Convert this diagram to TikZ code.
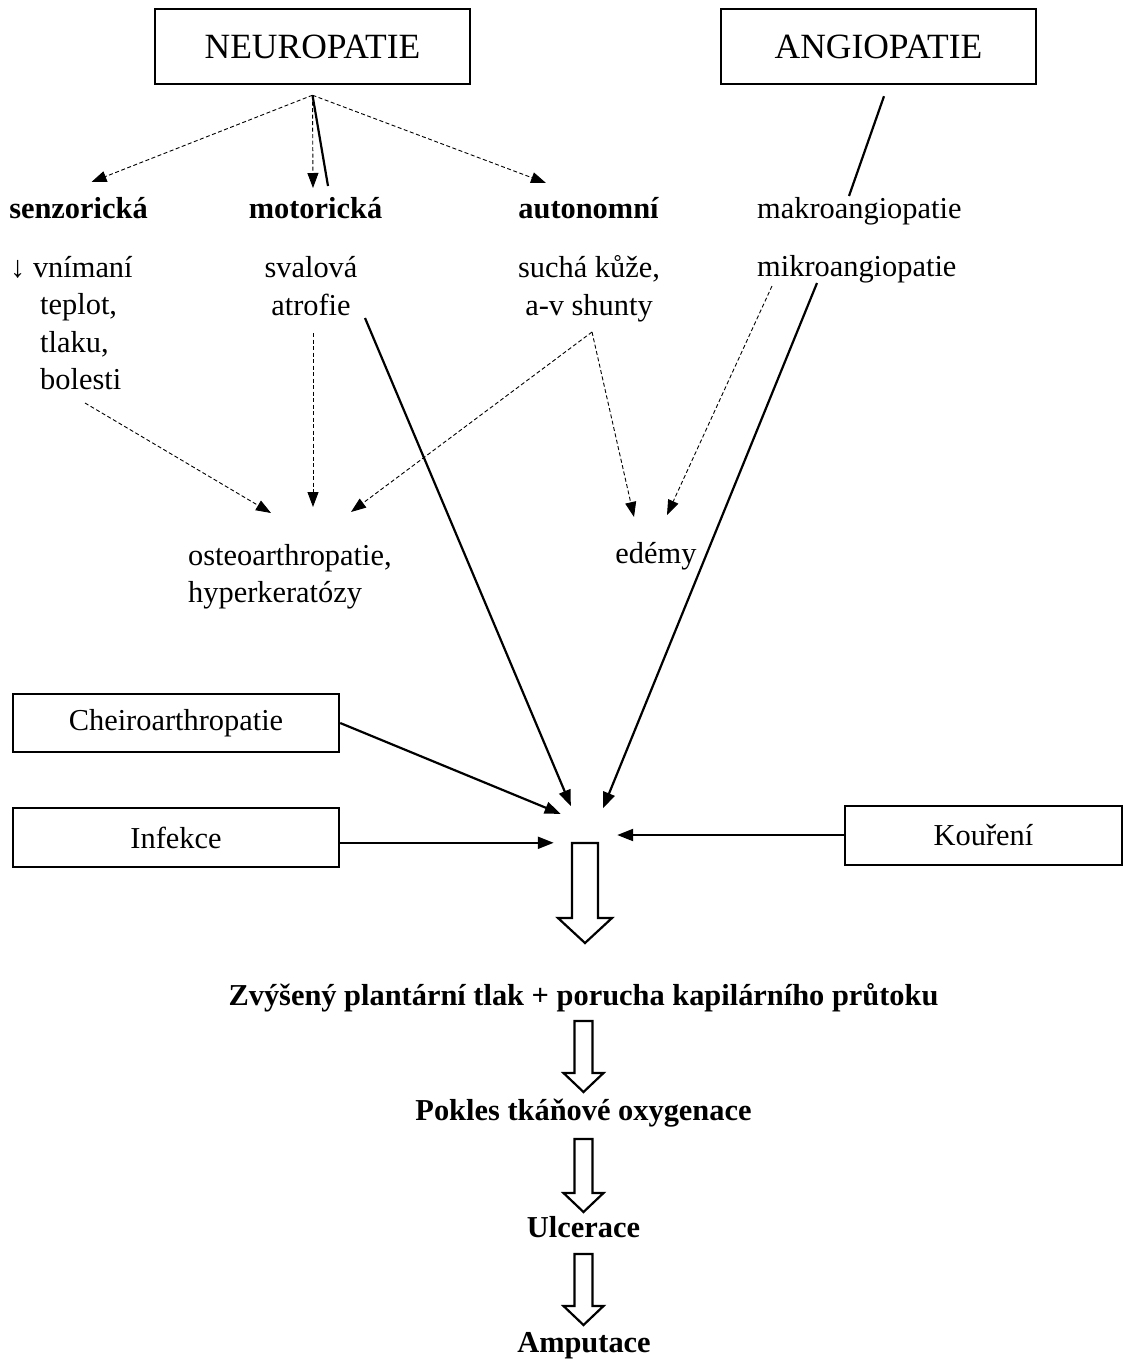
\documentclass[tikz,border=0pt]{standalone}
\usepackage{fontspec}
\setmainfont{Liberation Serif}
\usetikzlibrary{arrows.meta,calc}

% hollow downward arrow: top, tip, half shaft, half head, head length
\newcommand\fatarrow[5]{%
  \draw[fat] let \p1=#1, \p2=#2 in
    (\x1-#3,\y1) -- (\x1-#3,\y2+#5) -- (\x1-#4,\y2+#5) -- (\x1,\y2)
    -- (\x1+#4,\y2+#5) -- (\x1+#3,\y2+#5) -- (\x1+#3,\y1) -- cycle;}

\begin{document}
\begin{tikzpicture}[x=1pt,y=-1pt,
    txt/.style={inner sep=0pt, font=\fontsize{30.4}{37.5}\selectfont},
    bold/.style={inner sep=0pt, font=\fontsize{30.4}{37}\selectfont\bfseries},
    box/.style={draw, line width=2.4pt, inner sep=0pt, font=\fontsize{30.4}{37}\selectfont},
    headbox/.style={box, minimum width=315pt, minimum height=75pt, font=\fontsize{35.5}{42}\selectfont},
    dasharrow/.style={line width=0.9pt, dash pattern=on 4pt off 2.5pt, -{Triangle[length=15pt,width=11pt]}},
    solidarrow/.style={line width=2.2pt, -{Triangle[length=16pt,width=12pt]}},
    fat/.style={line width=2.2pt, line join=miter}]
    \useasboundingbox (0,0) rectangle (1123,1360);
    % Draw the two main boxes
    \node[headbox] (neuro) at (312.5,46.5) {NEUROPATIE};
    \node[headbox] (angio) at (878.5,46.5) {ANGIOPATIE};
    % Draw the kinds of neuropathy and angiopathy
    \node[bold, anchor=base] (senz) at (78.5,218) {senzorická};
    \node[bold, anchor=base] (motor) at (315.5,218) {motorická};
    \node[bold, anchor=base] (auto) at (588.5,218) {autonomní};
    \node[txt, anchor=base west] (makro) at (757,218) {makroangiopatie};
    \node[txt, anchor=base west] (mikro) at (757,276) {mikroangiopatie};
    % Draw their effects
    \node[txt, align=left, anchor=west] (vnim) at (10,323)
        {↓ vnímaní\\\hspace*{30pt}teplot,\\\hspace*{30pt}tlaku,\\\hspace*{30pt}bolesti};
    \node[txt, align=center] (sval) at (311,286) {svalová\\atrofie};
    \node[txt, align=center] (such) at (589,289) {suchá kůže,\\a-v shunty};
    \node[txt, align=left, anchor=west] (osteo) at (188,576.5) {osteoarthropatie,\\hyperkeratózy};
    \node[txt, anchor=base] (edemy) at (656,563) {edémy};
    % Draw the side factors
    \node[box, minimum width=326pt, minimum height=58pt] (cheiro) at (176,723) {\raisebox{-3pt}{Cheiroarthropatie}};
    \node[box, minimum width=326pt, minimum height=59pt] (infekce) at (176,837.5) {Infekce};
    \node[box, minimum width=277pt, minimum height=59pt] (koureni) at (983.5,835.5) {Kouření};
    \node[circle, minimum size=64pt, inner sep=0pt] (hub) at (585,835) {};
    % Draw the chain at the bottom
    \node[bold, anchor=base] (zvys) at (583.5,1005) {Zvýšený plantární tlak + porucha kapilárního průtoku};
    \node[bold, anchor=base] (pokles) at (583.5,1120) {Pokles tkáňové oxygenace};
    \node[bold, anchor=base] (ulcer) at (583.5,1237) {Ulcerace};
    \node[bold, anchor=base] (amput) at (584,1352) {Amputace};
    % Draw the arrows from neuropatie
    \coordinate (nsplit) at ($(neuro.south)+(0,10)$);
    \draw[dasharrow] (nsplit) -- ([shift={(13,-36)}]senz.base);
    \draw[dasharrow] (nsplit) -- ([shift={(-2.5,-30)}]motor.base);
    \draw[line width=2.2pt] (nsplit) -- ([shift={(12.5,-32)}]motor.base);
    \draw[dasharrow] (nsplit) -- ([shift={(-42.5,-35)}]auto.base);
    \draw[line width=2.2pt] ([shift={(5.5,11)}]angio.south) -- ([shift={(92,-22)}]makro.base west);
    % Draw the dashed arrows to the effects
    \draw[dasharrow] ([shift={(75,80)}]vnim.west) -- ([shift={(83,-63.5)}]osteo.west);
    \draw[dasharrow] ([shift={(2,47)}]sval.center) -- ([shift={(125,-69.5)}]osteo.west);
    \coordinate (suchpt) at ([shift={(3,43)}]such.center);
    \draw[dasharrow] (suchpt) -- ([shift={(163,-64.5)}]osteo.west);
    \draw[dasharrow] (suchpt) -- ([shift={(-22,-46)}]edemy.base);
    \draw[dasharrow] ([shift={(15,10)}]mikro.base west) -- ([shift={(11,-48)}]edemy.base);
    % Draw the arrows into the middle
    \draw[solidarrow] ([shift={(54,32)}]sval.center) -- (hub.116);
    \draw[solidarrow] ([shift={(60,7)}]mikro.base west) -- (hub.56);
    \draw[solidarrow] (cheiro.east) -- (hub.139);
    \draw[solidarrow] (infekce.east |- hub.194) -- (hub.194);
    \draw[solidarrow] (koureni.west |- hub.0) -- (hub.0);
    % Draw the hollow arrows
    \fatarrow{([yshift=-8pt]hub.center)}{([yshift=62pt]zvys.base)}{13pt}{27pt}{25pt}
    \fatarrow{([yshift=-16pt]zvys.base)}{([yshift=28pt]pokles.base)}{9pt}{20pt}{19pt}
    \fatarrow{([yshift=-19pt]pokles.base)}{([yshift=25pt]ulcer.base)}{9pt}{20pt}{19pt}
    \fatarrow{([yshift=-17pt]ulcer.base)}{([yshift=27pt]amput.base)}{9pt}{20pt}{19pt}
\end{tikzpicture}
\end{document}
